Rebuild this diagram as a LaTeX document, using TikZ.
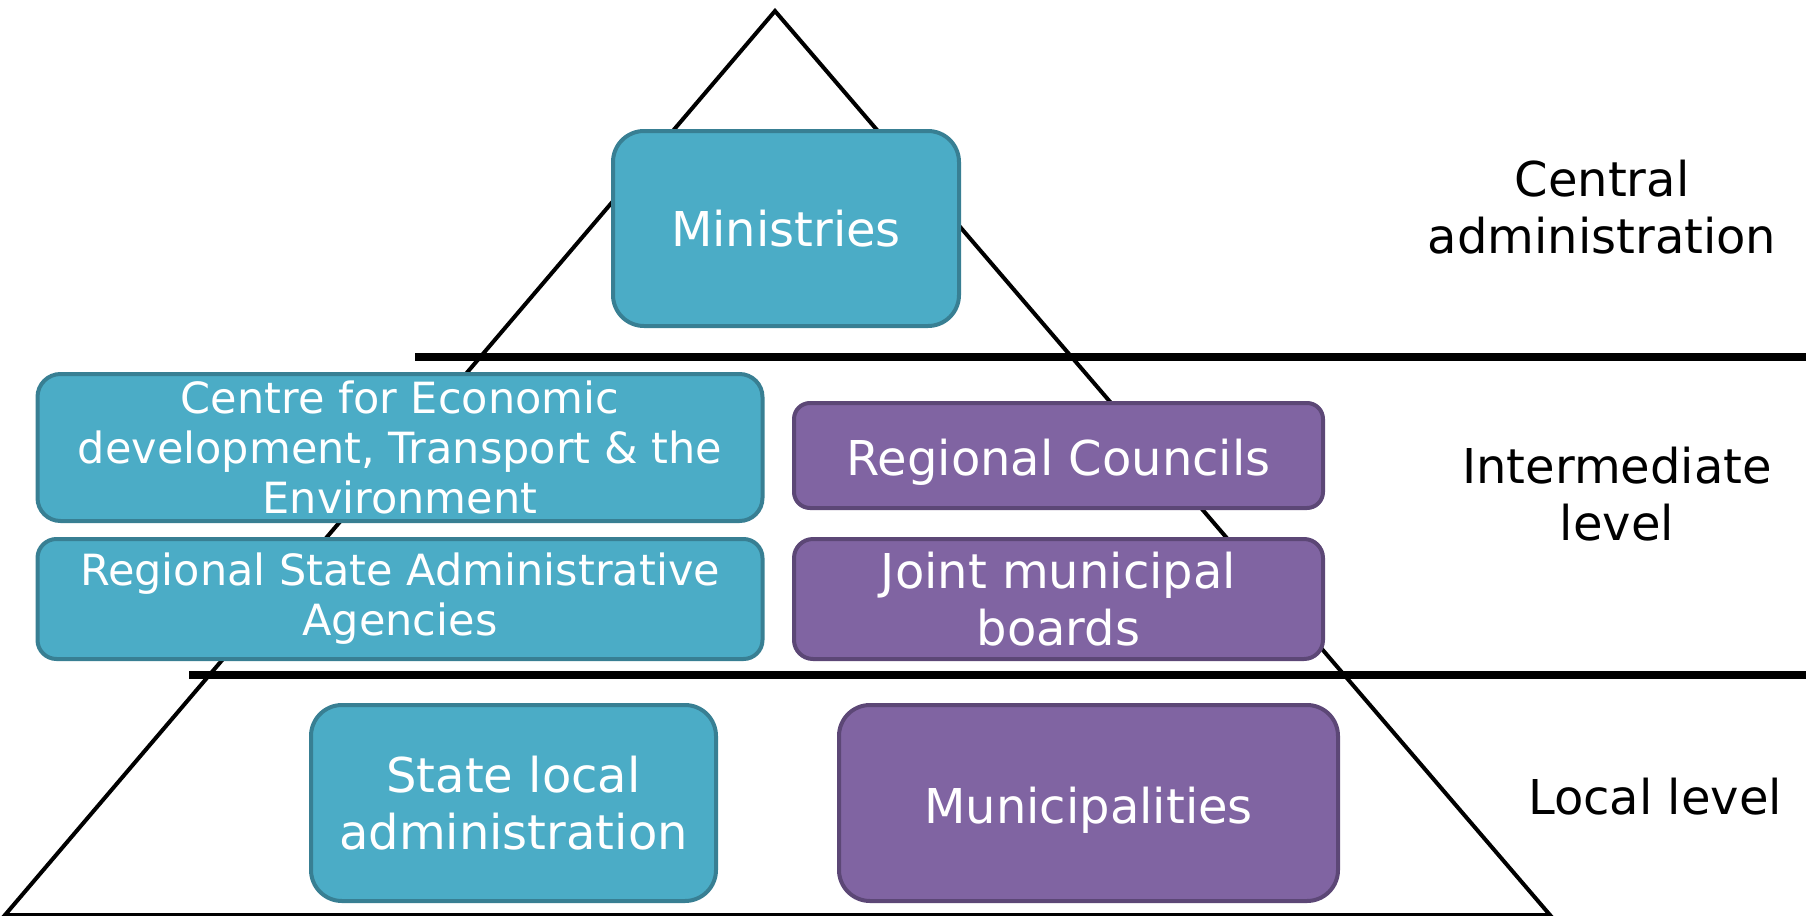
\documentclass[tikz,border=0pt]{standalone}
\usepackage{fontspec}
\setmainfont{DejaVu Sans}
\definecolor{tealfill}{HTML}{4BACC6}
\definecolor{tealedge}{HTML}{387F93}
\definecolor{purplefill}{HTML}{8064A2}
\definecolor{purpleedge}{HTML}{5C4776}

\begin{document}
\begin{tikzpicture}[x=1pt,y=-1pt,node distance=150pt,
	big/.style = {font=\fontsize{48}{57}\selectfont},
	small/.style = {font=\fontsize{43}{50}\selectfont},
	box/.style = {rectangle,rounded corners=#1,line width=4pt,text=white,align=center,inner sep=0pt},
	box/.default = 20pt,
	teal node/.style = {box=#1,draw=tealedge,fill=tealfill},
	purple node/.style = {box=#1,draw=purpleedge,fill=purplefill},
	one line/.style = {text height=50pt},
	level/.style = {big,align=center,inner sep=0pt}]
	
	\useasboundingbox (0,0) rectangle (1816,916);
	
	% pyramid and level lines
	\draw[line width=4pt] (775,11) -- (5,915) -- (1550,915) -- cycle;
	\draw[line width=7.5pt] (415,357) -- (1806,357);
	\draw[line width=7.5pt] (189,675) -- (1806,675);
	
	\node[teal node=31pt,big,minimum width=346pt,minimum height=195pt] (1) at (786,228.5) {Ministries};
	
	\node[teal node=23pt,small,minimum width=725pt,minimum height=147pt] (2) at (400,447.5) {Centre for Economic\\development, Transport \& the\\Environment};
	\node[teal node=19pt,small,minimum width=725pt,minimum height=120pt] [below of = 2,node distance=151.5pt] (3) {Regional State Administrative\\Agencies};
	\node[purple node=16pt,big,one line,minimum width=529pt,minimum height=105pt] (4) at (1058.5,455.5) {Regional Councils};
	\node[purple node=19pt,big,minimum width=529pt,minimum height=120pt] [below of = 4,node distance=143.5pt] (5) {Joint municipal\\boards};
	
	\node[teal node=31pt,big,minimum width=405pt,minimum height=196pt] (6) at (513.5,803) {State local\\administration};
	\node[purple node=31pt,big,one line,minimum width=499pt,minimum height=196pt] [right of = 6,node distance=575pt] (7) {Municipalities};
	
	\node[level] (8) at (1602,207) {Central\\administration};
	\node[level] (9) at (1617,494) {Intermediate\\level};
	\node[level] (10) at (1655,797) {Local level};
\end{tikzpicture}
\end{document}
